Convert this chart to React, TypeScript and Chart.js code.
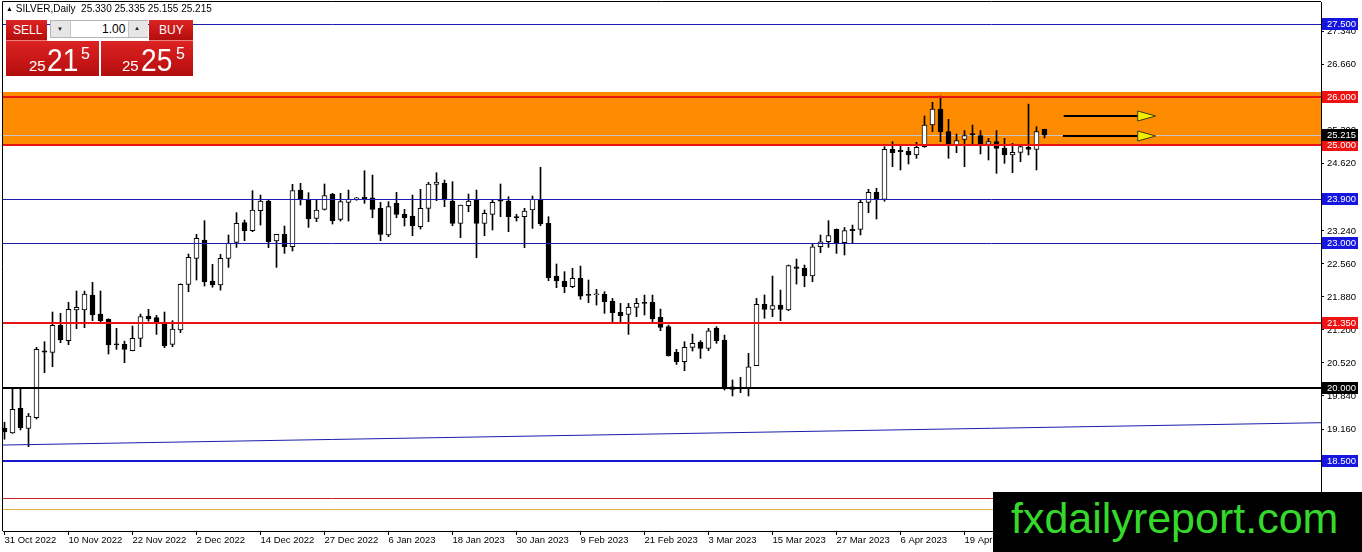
import React, { useEffect, useRef } from "react";
import { Chart, registerables } from "chart.js";
Chart.register(...registerables);

// ---------- data ----------
const dateLabels = ["31 Oct 2022", "10 Nov 2022", "22 Nov 2022", "2 Dec 2022", "14 Dec 2022", "27 Dec 2022", "6 Jan 2023", "18 Jan 2023", "30 Jan 2023", "9 Feb 2023", "21 Feb 2023", "3 Mar 2023", "15 Mar 2023", "27 Mar 2023", "6 Apr 2023", "19 Apr 2023"];
const barsPerDateLabel = 8;

const opens = [19.18, 19.08, 19.585, 19.174, 19.393, 20.77, 20.739, 21.302, 20.979, 21.61, 21.61, 21.919, 21.528, 21.418, 20.905, 20.903, 20.773, 21.027, 21.487, 21.453, 21.336, 20.903, 21.199, 22.139, 22.674, 23.052, 22.207, 22.125, 22.674, 23.004, 23.409, 23.244, 23.656, 23.855, 23.031, 23.168, 22.914, 24.081, 23.889, 23.498, 23.683, 23.999, 23.477, 23.827, 23.9, 23.93, 23.923, 23.704, 23.155, 23.807, 23.58, 23.546, 23.326, 23.704, 24.198, 24.219, 23.855, 23.395, 23.759, 23.889, 23.395, 23.58, 23.86, 23.855, 23.532, 23.532, 23.67, 23.889, 23.395, 22.31, 22.207, 22.09, 22.262, 21.93, 21.925, 21.933, 21.795, 21.562, 21.521, 21.665, 21.768, 21.768, 21.46, 21.267, 20.738, 20.546, 20.842, 20.944, 20.821, 21.233, 20.993, 20.03, 19.985, 19.997, 20.464, 21.727, 21.624, 21.713, 21.61, 22.502, 22.468, 22.31, 22.914, 23.017, 23.271, 22.996, 23.271, 23.271, 23.827, 24.033, 23.89, 24.919, 24.905, 24.885, 24.803, 24.974, 25.42, 25.75, 25.283, 25.008, 25.125, 25.242, 25.2, 25.022, 25.077, 24.94, 24.803, 24.857, 24.96, 24.919, 25.33];
const highs = [19.3, 20.01, 20.01, 19.48, 20.842, 20.958, 21.569, 21.542, 21.768, 22.002, 22.0, 22.18, 22.002, 21.43, 21.233, 20.97, 21.281, 21.528, 21.624, 21.5, 21.569, 21.391, 22.15, 22.764, 23.168, 23.45, 22.55, 22.756, 23.155, 23.615, 23.463, 24.068, 23.978, 23.875, 23.17, 23.34, 24.198, 24.219, 24.026, 23.875, 24.205, 24.013, 24.013, 24.081, 23.93, 24.479, 24.39, 23.827, 23.841, 24.033, 23.683, 23.978, 24.095, 24.24, 24.438, 24.287, 24.253, 23.772, 23.999, 24.081, 23.67, 23.875, 24.205, 23.944, 23.58, 23.704, 23.958, 24.55, 23.532, 22.558, 22.4, 22.468, 22.516, 22.228, 22.036, 21.988, 21.85, 21.747, 21.747, 21.85, 21.919, 21.919, 21.63, 21.3, 20.8, 20.958, 21.116, 20.98, 21.233, 21.267, 21.095, 20.17, 20.224, 20.718, 21.85, 21.92, 22.31, 22.022, 22.537, 22.66, 22.537, 22.983, 23.155, 23.45, 23.28, 23.31, 23.36, 23.875, 24.095, 24.116, 24.974, 25.077, 25.008, 24.96, 25.063, 25.606, 25.887, 26.017, 25.537, 25.235, 25.304, 25.42, 25.304, 25.146, 25.304, 25.146, 25.043, 25.008, 25.85, 25.386, 25.335];
const lows = [18.95, 19.07, 19.14, 18.796, 19.366, 20.32, 20.443, 20.938, 20.896, 21.226, 21.247, 21.391, 21.356, 20.704, 20.8, 20.526, 20.77, 20.855, 21.38, 21.109, 20.835, 20.855, 21.144, 21.988, 22.228, 22.104, 22.08, 22.02, 22.489, 22.9, 23.038, 23.223, 23.36, 22.894, 22.489, 22.777, 22.825, 23.772, 23.312, 23.429, 23.669, 23.381, 23.443, 23.443, 23.87, 23.807, 23.512, 23.038, 23.12, 23.512, 23.34, 23.141, 23.278, 23.429, 23.862, 23.738, 23.347, 23.1, 23.635, 22.688, 23.141, 23.258, 23.532, 23.223, 23.443, 22.894, 23.292, 23.347, 22.214, 22.07, 21.967, 22.07, 21.83, 21.761, 21.713, 21.542, 21.35, 21.35, 21.109, 21.473, 21.507, 21.35, 21.185, 20.66, 20.49, 20.361, 20.766, 20.615, 20.773, 20.924, 19.963, 19.84, 19.908, 19.84, 20.464, 21.44, 21.473, 21.39, 21.596, 22.145, 22.09, 22.194, 22.791, 22.9, 22.777, 22.743, 22.983, 23.155, 23.615, 23.484, 23.85, 24.562, 24.494, 24.617, 24.734, 24.96, 25.283, 25.077, 24.734, 24.85, 24.562, 25.008, 24.823, 24.7, 24.425, 24.631, 24.439, 24.665, 24.803, 24.494, 25.155];
const closes = [19.1, 19.565, 19.187, 19.428, 20.8, 20.74, 21.295, 20.993, 21.624, 21.665, 21.94, 21.507, 21.391, 20.89, 20.895, 20.8, 21.027, 21.473, 21.425, 21.37, 20.876, 21.219, 22.139, 22.695, 23.086, 22.194, 22.125, 22.674, 22.983, 23.395, 23.244, 23.669, 23.855, 23.017, 23.168, 22.914, 24.068, 23.889, 23.484, 23.669, 23.965, 23.45, 23.841, 23.889, 23.91, 23.9, 23.683, 23.168, 23.738, 23.58, 23.512, 23.347, 23.704, 24.205, 24.246, 23.875, 23.395, 23.772, 23.855, 23.395, 23.601, 23.827, 23.85, 23.532, 23.51, 23.649, 23.889, 23.381, 22.276, 22.207, 22.09, 22.262, 21.898, 21.912, 21.93, 21.782, 21.555, 21.494, 21.665, 21.747, 21.747, 21.425, 21.254, 20.67, 20.546, 20.842, 20.924, 20.82, 21.184, 20.979, 19.997, 19.977, 19.995, 20.443, 21.727, 21.624, 21.7, 21.624, 22.523, 22.468, 22.31, 22.914, 23.017, 23.141, 22.996, 23.244, 23.244, 23.827, 24.033, 23.889, 24.919, 24.85, 24.87, 24.803, 24.96, 25.42, 25.75, 25.283, 25.022, 25.098, 25.2, 25.214, 25.029, 25.077, 24.94, 24.803, 24.857, 24.974, 24.919, 25.283, 25.215];

const yTickValues = [19.16, 19.84, 20.52, 21.2, 21.88, 22.56, 23.24, 23.94, 24.62, 25.3, 25.98, 26.66, 27.34];
const levelPrices = [27.5, 26.0, 25.0, 23.9, 23.0, 21.35, 20.0, 18.5];
const bidPrice = 25.215;
const zoneRange = [25.0, 26.1];
const lowerLinePrices = [17.739, 17.512];
const trendIndex = [-0.19, 164.56];
const trendPrices = [18.83, 19.29];
const arrowStartIndex = [132.4, 132.3];
const arrowEndIndex = [143.9, 143.9];
const arrowPrices = [25.605, 25.19];

// ---------- styles (kept apart from data) ----------
const levelStyles = [
  { color: "#1c1cae", width: 1, box: "#1616e0" },
  { color: "#e81414", width: 2, box: "#ee1212" },
  { color: "#e81414", width: 2, box: "#ee1212" },
  { color: "#1c1cae", width: 1, box: "#1616e0" },
  { color: "#1c1cae", width: 1, box: "#1616e0" },
  { color: "#e81414", width: 2, box: "#ee1212" },
  { color: "#000000", width: 2, box: "#000000" },
  { color: "#1818d0", width: 2, box: "#1616e0" },
];
const lowerLineColors = ["#c81e1e", "#e6b43c"];
const X_MIN = -0.1875;
const X_MAX = X_MIN + 1318 / 8;
const Y_MIN = 17.06;
const Y_MAX = 27.953;
const AXIS_FONT = { family: '"Liberation Sans", Arial, sans-serif', size: 9.5 };

const idx = opens.map((_, i) => i);

const overlayPlugin = {
  id: "mtOverlay",
  beforeDatasetsDraw(chart: any) {
    const { ctx, chartArea: a, scales } = chart;
    const y = scales.y;
    ctx.save();
    ctx.beginPath();
    ctx.rect(a.left, a.top, a.right - a.left, a.bottom - a.top);
    ctx.clip();
    const t = y.getPixelForValue(zoneRange[1]);
    const b = y.getPixelForValue(zoneRange[0]);
    ctx.fillStyle = "#ff8c00";
    ctx.fillRect(a.left, t, a.right - a.left, b - t);
    const by = Math.round(y.getPixelForValue(bidPrice)) + 0.5;
    ctx.strokeStyle = "#c8c8c8";
    ctx.lineWidth = 1;
    ctx.beginPath();
    ctx.moveTo(a.left, by);
    ctx.lineTo(a.right, by);
    ctx.stroke();
    ctx.restore();
  },
  afterDatasetsDraw(chart: any) {
    const { ctx, chartArea: a, scales } = chart;
    const x = scales.x;
    const y = scales.y;
    ctx.save();
    ctx.beginPath();
    ctx.rect(a.left, a.top, a.right - a.left, a.bottom - a.top);
    ctx.clip();
    const hline = (p: number, color: string, w: number) => {
      const py = w % 2 === 1 ? Math.round(y.getPixelForValue(p)) + 0.5 : Math.round(y.getPixelForValue(p));
      ctx.strokeStyle = color;
      ctx.lineWidth = w;
      ctx.beginPath();
      ctx.moveTo(a.left, py);
      ctx.lineTo(a.right, py);
      ctx.stroke();
    };
    levelPrices.forEach((p, i) => hline(p, levelStyles[i].color, levelStyles[i].width));
    lowerLinePrices.forEach((p, i) => hline(p, lowerLineColors[i], 1));
    ctx.strokeStyle = "#1c1cae";
    ctx.lineWidth = 1;
    ctx.beginPath();
    ctx.moveTo(x.getPixelForValue(trendIndex[0]), y.getPixelForValue(trendPrices[0]));
    ctx.lineTo(x.getPixelForValue(trendIndex[1]), y.getPixelForValue(trendPrices[1]));
    ctx.stroke();
    arrowPrices.forEach((p, i) => {
      const py = Math.round(y.getPixelForValue(p));
      const x0 = x.getPixelForValue(arrowStartIndex[i]);
      const x1 = x.getPixelForValue(arrowEndIndex[i]);
      const headLen = 18;
      ctx.strokeStyle = "#000";
      ctx.lineWidth = 2;
      ctx.beginPath();
      ctx.moveTo(x0, py);
      ctx.lineTo(x1 - headLen, py);
      ctx.stroke();
      ctx.beginPath();
      ctx.moveTo(x1 - headLen, py - 5);
      ctx.lineTo(x1, py);
      ctx.lineTo(x1 - headLen, py + 5);
      ctx.closePath();
      ctx.fillStyle = "#f4f000";
      ctx.fill();
      ctx.lineWidth = 1;
      ctx.strokeStyle = "#3a3a1a";
      ctx.stroke();
    });
    ctx.restore();
  },
  afterDraw(chart: any) {
    const { ctx, chartArea: a, scales } = chart;
    const y = scales.y;
    ctx.save();
    ctx.strokeStyle = "#000";
    ctx.lineWidth = 1;
    ctx.beginPath();
    ctx.moveTo(a.left - 0.5, a.bottom);
    ctx.lineTo(a.left - 0.5, a.top - 0.5);
    ctx.lineTo(a.right, a.top - 0.5);
    ctx.stroke();
    const boxes: { p: number; c: string }[] = levelPrices.map((p, i) => ({ p, c: levelStyles[i].box }));
    boxes.push({ p: bidPrice, c: "#000000" });
    ctx.font = `${AXIS_FONT.size}px ${AXIS_FONT.family}`;
    ctx.textBaseline = "middle";
    ctx.textAlign = "left";
    boxes.forEach((bx) => {
      const py = Math.round(y.getPixelForValue(bx.p));
      ctx.fillStyle = bx.c;
      ctx.fillRect(a.right + 1, py - 6, 36, 12);
      ctx.fillStyle = "#fff";
      ctx.fillText(bx.p.toFixed(3), a.right + 6, py + 0.5);
    });
    ctx.restore();
  },
};

export default function App() {
  const ref = useRef<HTMLCanvasElement>(null);
  useEffect(() => {
    const wickData = idx.map((i) => ({ x: i, y: [lows[i], highs[i]] }));
    const bodyData = idx.map((i) => ({ x: i, y: [opens[i], closes[i]] }));
    const bodyColors = idx.map((i) => (closes[i] >= opens[i] ? "#ffffff" : "#000000"));
    const chart = new Chart(ref.current as HTMLCanvasElement, {
      type: "bar",
      data: {
        datasets: [
          {
            label: "body",
            data: bodyData as any,
            backgroundColor: bodyColors,
            borderColor: "#000",
            borderWidth: 1,
            borderSkipped: false,
            barThickness: 5,
            minBarLength: 1,
            grouped: false,
          } as any,
          {
            label: "wick",
            data: wickData as any,
            backgroundColor: "#000",
            borderWidth: 0,
            barThickness: 1,
            grouped: false,
          } as any,
        ],
      },
      options: {
        animation: false,
        responsive: false,
        maintainAspectRatio: false,
        devicePixelRatio: 1,
        events: [],
        layout: { padding: { left: 3, top: 2, right: 0, bottom: 0 } },
        plugins: { legend: { display: false }, tooltip: { enabled: false } },
        scales: {
          x: {
            type: "linear",
            min: X_MIN,
            max: X_MAX,
            offset: false,
            grid: { display: true, drawOnChartArea: false, drawTicks: true, tickLength: 4, color: "#000", offset: false },
            border: { display: true, color: "#000", width: 1 },
            ticks: {
              autoSkip: false,
              maxRotation: 0,
              minRotation: 0,
              align: "start",
              padding: 0,
              color: "#000",
              font: AXIS_FONT,
              callback: (_v: any, i: number) => dateLabels[i],
            },
            afterBuildTicks: (s: any) => {
              s.ticks = dateLabels.map((_, k) => ({ value: k * barsPerDateLabel }));
            },
            afterFit: (s: any) => {
              s.height = 21;
              s.paddingLeft = 0;
              s.paddingRight = 0;
            },
          } as any,
          y: {
            type: "linear",
            position: "right",
            min: Y_MIN,
            max: Y_MAX,
            grid: { display: true, drawOnChartArea: false, drawTicks: true, tickLength: 3, color: "#000" },
            border: { display: true, color: "#000", width: 1 },
            ticks: {
              padding: 3,
              color: "#000",
              font: AXIS_FONT,
              callback: (v: any) => Number(v).toFixed(3),
            },
            afterBuildTicks: (s: any) => {
              s.ticks = yTickValues.map((v) => ({ value: v }));
            },
            afterFit: (s: any) => {
              s.width = 41;
              s.paddingTop = 0;
              s.paddingBottom = 0;
            },
          } as any,
        },
      },
      plugins: [overlayPlugin],
    } as any);
    return () => chart.destroy();
  }, []);

  const sans = '"Liberation Sans", Arial, sans-serif';
  const redBg = "linear-gradient(to bottom, #dc2424 0%, #c81616 55%, #b20e0e 100%)";
  const abs = (l: number, t: number, w: number, h: number): React.CSSProperties => ({
    position: "absolute",
    left: l,
    top: t,
    width: w,
    height: h,
  });
  const txt = (l: number, t: number, size: number, s: string, extra: React.CSSProperties = {}) => (
    <span
      style={{
        position: "absolute",
        left: l,
        top: t,
        fontFamily: sans,
        fontSize: size,
        lineHeight: 1,
        color: "#fff",
        whiteSpace: "nowrap",
        ...extra,
      }}
    >
      {s}
    </span>
  );

  return (
    <div style={{ position: "fixed", left: 0, top: 0, width: 1362, height: 552, background: "#fff", overflow: "hidden" }}>
      <canvas ref={ref} width={1362} height={552} style={{ position: "absolute", left: 0, top: 0, width: 1362, height: 552 }} />
      <div style={{ position: "absolute", left: 6, top: 4, fontFamily: sans, fontSize: 10, lineHeight: 1, color: "#000", whiteSpace: "pre" }}>
        <span style={{ fontSize: 7, verticalAlign: 1 }}>▲</span>
        {" SILVER,Daily  25.330 25.335 25.155 25.215"}
      </div>
      <div style={{ ...abs(6, 20, 41, 21), background: redBg, borderBottom: "1px solid #f08080", boxSizing: "border-box" }} />
      {txt(13, 24, 12, "SELL")}
      <div style={{ ...abs(149, 20, 44, 21), background: redBg, borderBottom: "1px solid #f08080", boxSizing: "border-box" }} />
      {txt(159, 24, 12, "BUY")}
      <div style={{ ...abs(50, 20, 98, 18), background: "#fff", border: "1px solid #b4b4b4", boxSizing: "border-box" }} />
      <div style={{ ...abs(51, 21, 19, 16), background: "#e6e6e6", borderRight: "1px solid #c4c4c4" }} />
      <div style={{ ...abs(128, 21, 19, 16), background: "#e6e6e6", borderLeft: "1px solid #c4c4c4" }} />
      {txt(57, 26, 6, "▼", { color: "#222" })}
      {txt(134, 25, 6, "▲", { color: "#222" })}
      {txt(102, 23, 12, "1.00", { color: "#000" })}
      <div style={{ ...abs(6, 41, 93, 35), background: redBg }} />
      <div style={{ ...abs(101, 41, 92, 35), background: redBg }} />
      {txt(29, 58, 15, "25")}
      {txt(47, 44, 32, "21", { transform: "scaleX(0.88)", transformOrigin: "left top" })}
      {txt(81, 46, 16, "5")}
      {txt(122, 58, 15, "25")}
      {txt(141, 44, 32, "25", { transform: "scaleX(0.88)", transformOrigin: "left top" })}
      {txt(176, 46, 16, "5")}
      <div style={{ ...abs(993, 492, 369, 60), background: "#000" }} />
      {txt(1011, 497, 43, "fxdailyreport.com", { color: "#36d92b" })}
    </div>
  );
}
